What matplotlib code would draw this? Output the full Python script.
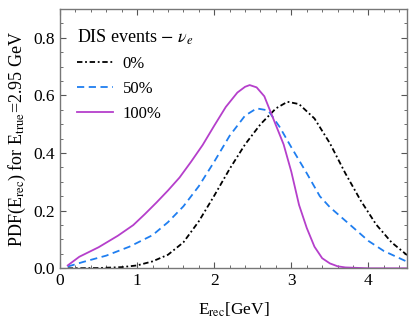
import numpy as np
import matplotlib
matplotlib.use("Agg")
import matplotlib.pyplot as plt
from matplotlib.ticker import MultipleLocator, FormatStrFormatter

# reconstructed energy [GeV] and PDF values for the three smearing cases
e_0 = [0.1, 0.5, 0.8, 1.0, 1.2, 1.4, 1.6, 1.8, 2.0, 2.2, 2.4, 2.6, 2.8, 2.95,
       3.1, 3.3, 3.5, 3.7, 3.9, 4.1, 4.3, 4.5]
pdf_0 = [0.0, 0.001, 0.004, 0.01, 0.024, 0.047, 0.09, 0.163, 0.252, 0.345, 0.43,
         0.5, 0.555, 0.578, 0.57, 0.52, 0.434, 0.33, 0.235, 0.152, 0.09, 0.046]

e_50 = [0.1, 0.3, 0.6, 0.9, 1.2, 1.4, 1.6, 1.8, 2.0, 2.2, 2.4, 2.55, 2.7, 2.85,
        3.0, 3.2, 3.37, 3.5, 3.65, 3.8, 4.0, 4.2, 4.5]
pdf_50 = [0.006, 0.022, 0.044, 0.075, 0.115, 0.16, 0.215, 0.285, 0.37, 0.46, 0.53,
          0.555, 0.548, 0.49, 0.42, 0.33, 0.25, 0.212, 0.177, 0.142, 0.095, 0.06, 0.023]

e_100 = [0.1, 0.25, 0.5, 0.75, 0.95, 1.1, 1.25, 1.4, 1.55, 1.7, 1.85, 2.0, 2.15,
         2.3, 2.4, 2.46, 2.55, 2.65, 2.75, 2.9, 3.0, 3.1, 3.2, 3.3, 3.4, 3.5,
         3.6, 3.7, 4.0, 4.5]
pdf_100 = [0.01, 0.04, 0.073, 0.113, 0.15, 0.188, 0.228, 0.27, 0.315, 0.37, 0.428,
           0.495, 0.56, 0.61, 0.63, 0.636, 0.628, 0.597, 0.53, 0.43, 0.335, 0.22,
           0.14, 0.075, 0.035, 0.017, 0.007, 0.003, 0.0, 0.0]

labels = ["0%", "50%", "100%"]

plt.rcParams["font.family"] = ["Liberation Serif", "DejaVu Serif"]
plt.rcParams["mathtext.fontset"] = "stix"


def main():
    fig = plt.figure(figsize=(4.15, 3.29), dpi=100)
    ax = fig.add_axes([0.1446, 0.1845, 0.8361, 0.7881])

    ax.plot(e_0, pdf_0, color="black", lw=1.3, linestyle=(0, (3, 1.5, 1, 1.5)),
            label=labels[0])
    ax.plot(e_50, pdf_50, color="#1f7ef0", lw=1.3, linestyle=(0, (4, 2.5)),
            label=labels[1])
    ax.plot(e_100, pdf_100, color="#b53fcb", lw=1.3, label=labels[2])

    ax.set_xlim(0, 4.5)
    ax.set_ylim(0, 0.9)
    ax.xaxis.set_major_locator(MultipleLocator(1))
    ax.xaxis.set_minor_locator(MultipleLocator(0.2))
    ax.yaxis.set_major_locator(MultipleLocator(0.2))
    ax.yaxis.set_minor_locator(MultipleLocator(0.05))
    ax.yaxis.set_major_formatter(FormatStrFormatter("%.1f"))
    ax.tick_params(which="both", direction="in", top=True, right=True,
                   labelsize=12.5, color="#555555")
    ax.tick_params(which="major", length=4.5, width=0.8)
    ax.tick_params(which="minor", length=2.5, width=0.6)
    for s in ax.spines.values():
        s.set_color("#777777")
        s.set_linewidth(1.0)

    ax.set_xlabel(r"E$_{\mathrm{rec}}$[GeV]", fontsize=12.5, labelpad=8)
    ax.set_ylabel(r"PDF(E$_{\mathrm{rec}}$) for E$_{\mathrm{true}}$=2.95 GeV",
                  fontsize=13, labelpad=4)

    leg = ax.legend(loc="upper left", bbox_to_anchor=(0.005, 0.987),
                    frameon=False, fontsize=12,
                    title=r"DIS events $-$ $\nu_e$", title_fontsize=13,
                    handlelength=2.2, handletextpad=0.55, labelspacing=0.55,
                    borderaxespad=0.5)
    leg._legend_box.align = "left"

    fig.savefig("out.png", dpi=100)
    plt.close(fig)


if __name__ == "__main__":
    main()
